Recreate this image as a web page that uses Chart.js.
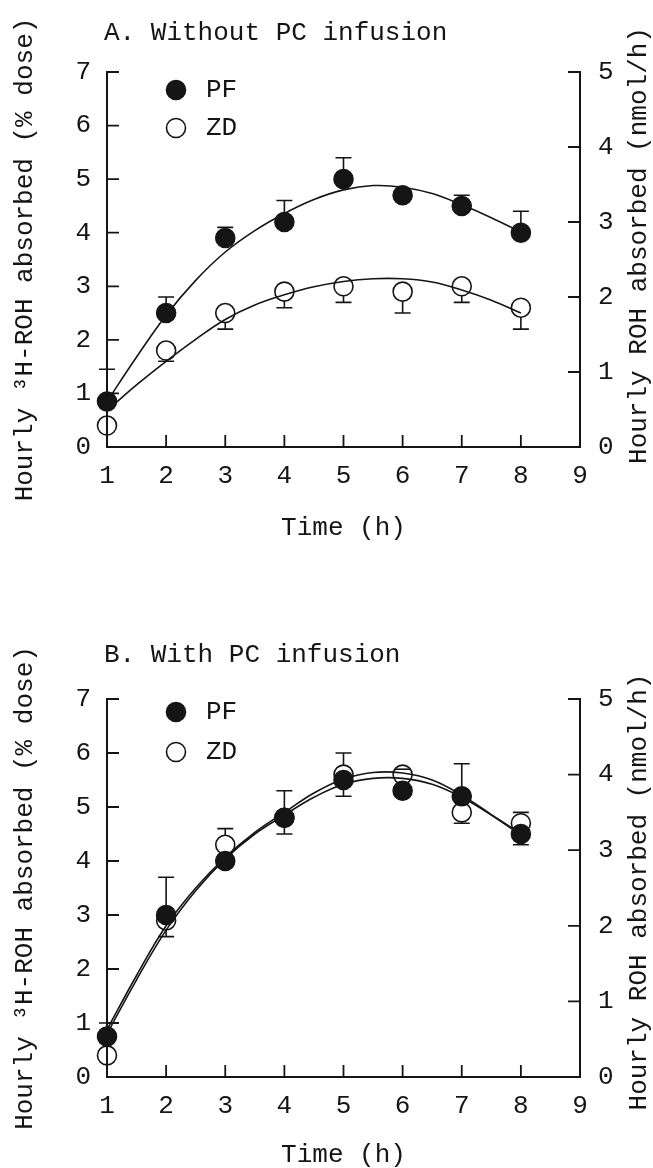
<!DOCTYPE html>
<html>
<head>
<meta charset="utf-8">
<script src="https://cdn.jsdelivr.net/npm/chart.js@4.4.0/dist/chart.umd.min.js"></script>
<style>
  html, body { margin: 0; padding: 0; background: #fff; }
  .panel { position: absolute; left: 0; width: 653px; height: 584px; }
</style>
</head>
<body>
<div class="panel" style="top:0"><canvas id="chartA" width="653" height="584"></canvas></div>
<div class="panel" style="top:584px"><canvas id="chartB" width="653" height="584"></canvas></div>
<script>
// measured hours and the fitted-curve sample hours
const timeH = [1, 2, 3, 4, 5, 6, 7, 8];
const fitTime = [1, 1.5, 2, 2.5, 3, 3.5, 4, 4.5, 5, 5.5, 6, 6.5, 7, 7.5, 8];

// A. Without PC infusion (% dose)
const pfA = [0.85, 2.5, 3.9, 4.2, 5.0, 4.7, 4.5, 4.0];
const pfErrA = [1.45, 2.8, 4.1, 4.6, 5.4, null, 4.7, 4.4];
const zdA = [0.4, 1.8, 2.5, 2.9, 3.0, 2.9, 3.0, 2.6];
const zdErrA = [null, 1.6, 2.2, 2.6, 2.7, 2.5, 2.7, 2.2];
const pfFitA = [0.85, 1.68, 2.46, 3.11, 3.64, 4.04, 4.36, 4.62, 4.80, 4.88, 4.85, 4.73, 4.52, 4.28, 4.01];
const zdFitA = [0.68, 1.16, 1.60, 2.01, 2.38, 2.65, 2.84, 2.99, 3.09, 3.14, 3.14, 3.08, 2.93, 2.74, 2.50];

// B. With PC infusion (% dose)
const pfB = [0.75, 3.0, 4.0, 4.8, 5.5, 5.3, 5.2, 4.5];
const pfErrB = [1.0, 3.7, null, 5.3, 5.2, null, 5.8, 4.3];
const zdB = [0.4, 2.9, 4.3, 4.8, 5.6, 5.6, 4.9, 4.7];
const zdErrB = [null, 2.6, 4.6, 4.5, 6.0, 5.7, 4.7, 4.9];
const pfFitB = [0.80, 1.80, 2.72, 3.45, 4.04, 4.50, 4.85, 5.18, 5.42, 5.53, 5.53, 5.42, 5.18, 4.85, 4.48];
const zdFitB = [0.88, 1.88, 2.80, 3.50, 4.07, 4.53, 4.90, 5.26, 5.52, 5.64, 5.63, 5.50, 5.22, 4.86, 4.50];

// axis ticks
const xTicks = [1, 2, 3, 4, 5, 6, 7, 8, 9];
const leftTicks = [0, 1, 2, 3, 4, 5, 6, 7];
const rightTicks = [0, 1, 2, 3, 4, 5];

const INK = "#151515";
const FONT = "'Liberation Mono', 'Courier New', monospace";
const W = 653, H = 584;

const toXY = (xs, ys) => xs.map((x, i) => ({ x, y: ys[i] }));

// error bars, inward tick marks, right axis title, panel title and legend
const panelPlugin = {
  id: "panel",
  beforeDatasetsDraw(chart) {
    const ctx = chart.ctx;
    const ys = chart.scales.y;
    chart.data.datasets.forEach((ds, i) => {
      if (!ds.errEnd) return;
      const meta = chart.getDatasetMeta(i);
      ctx.save();
      ctx.strokeStyle = INK;
      ctx.lineWidth = 1.6;
      meta.data.forEach((pt, j) => {
        const end = ds.errEnd[j];
        if (end == null) return;
        const yEnd = ys.getPixelForValue(end);
        const dir = yEnd < pt.y ? -1 : 1;
        const r = ds.pointRadius;
        ctx.beginPath();
        if (Math.abs(yEnd - pt.y) > r) {
          ctx.moveTo(pt.x, pt.y + dir * r);
          ctx.lineTo(pt.x, yEnd);
        }
        ctx.moveTo(pt.x - 8, yEnd);
        ctx.lineTo(pt.x + 8, yEnd);
        ctx.stroke();
      });
      ctx.restore();
    });
  },
  afterDraw(chart, args, opts) {
    const ctx = chart.ctx;
    const { left, right, top, bottom } = chart.chartArea;
    const { x, y, y2 } = chart.scales;
    ctx.save();
    ctx.strokeStyle = INK;
    ctx.lineWidth = 1.8;
    ctx.beginPath();
    y.ticks.forEach(t => {
      const p = y.getPixelForValue(t.value);
      ctx.moveTo(left, p); ctx.lineTo(left + 12, p);
    });
    y2.ticks.forEach(t => {
      const p = y2.getPixelForValue(t.value);
      ctx.moveTo(right - 12, p); ctx.lineTo(right, p);
    });
    x.ticks.forEach(t => {
      const p = x.getPixelForValue(t.value);
      ctx.moveTo(p, bottom); ctx.lineTo(p, bottom - 12);
    });
    ctx.stroke();

    ctx.fillStyle = INK;
    ctx.font = "26px " + FONT;
    ctx.textBaseline = "middle";

    // right axis title reads bottom-to-top like the left one
    ctx.save();
    ctx.translate(opts.rightTitleX, (top + bottom) / 2 + opts.rightTitleShift);
    ctx.rotate(-Math.PI / 2);
    ctx.textAlign = "center";
    ctx.fillText(opts.rightTitle, 0, 0);
    ctx.restore();

    ctx.textAlign = "left";
    ctx.fillText(opts.title, opts.titleX, opts.titleY);

    opts.legend.forEach((item, k) => {
      const ds = chart.data.datasets[item];
      const cy = opts.legendY[k];
      ctx.beginPath();
      ctx.arc(opts.legendX, cy, ds.pointRadius, 0, Math.PI * 2);
      ctx.fillStyle = ds.pointBackgroundColor;
      ctx.fill();
      ctx.lineWidth = ds.pointBorderWidth;
      ctx.strokeStyle = ds.pointBorderColor;
      ctx.stroke();
      ctx.fillStyle = INK;
      ctx.fillText(ds.label, opts.legendX + 30, cy);
    });
    ctx.restore();
  }
};

function makePanel(id, cfg) {
  const tickFont = { family: FONT, size: 26 };
  const titleFont = { family: FONT, size: 26, lineHeight: 1 };
  return new Chart(document.getElementById(id), {
    type: "scatter",
    data: {
      datasets: [
        {
          label: "PF",
          data: toXY(timeH, cfg.pf),
          errEnd: cfg.pfErr,
          pointRadius: 9.5,
          pointBackgroundColor: INK,
          pointBorderColor: INK,
          pointBorderWidth: 1.6,
          clip: false,
          order: 0
        },
        {
          label: "ZD",
          data: toXY(timeH, cfg.zd),
          errEnd: cfg.zdErr,
          pointRadius: 9.5,
          pointBackgroundColor: "rgba(255,255,255,0)",
          pointBorderColor: INK,
          pointBorderWidth: 1.6,
          clip: false,
          order: 1
        },
        {
          label: "PF fit",
          data: toXY(fitTime, cfg.pfFit),
          showLine: true,
          pointRadius: 0,
          borderColor: INK,
          borderWidth: 1.6,
          tension: 0.4,
          order: 2
        },
        {
          label: "ZD fit",
          data: toXY(fitTime, cfg.zdFit),
          showLine: true,
          pointRadius: 0,
          borderColor: INK,
          borderWidth: 1.6,
          tension: 0.4,
          order: 2
        }
      ]
    },
    options: {
      responsive: false,
      animation: false,
      events: [],
      layout: { padding: { top: cfg.plotTop, left: 0, right: 0, bottom: 0 } },
      scales: {
        x: {
          type: "linear",
          min: 1, max: 9,
          afterBuildTicks: s => { s.ticks = xTicks.map(v => ({ value: v })); },
          afterFit: s => { s.height = H - cfg.plotBottom; },
          grid: { display: false, drawTicks: false },
          border: { display: true, color: INK, width: 2 },
          ticks: { font: tickFont, color: INK, padding: 14, maxRotation: 0 },
          title: {
            display: true, text: "Time (h)", font: titleFont, color: INK,
            padding: { top: 0, bottom: cfg.xTitlePad }
          }
        },
        y: {
          position: "left",
          min: 0, max: 7,
          afterBuildTicks: s => { s.ticks = leftTicks.map(v => ({ value: v })); },
          afterFit: s => { s.width = 107; },
          grid: { display: false, drawTicks: false },
          border: { display: true, color: INK, width: 2 },
          ticks: { font: tickFont, color: INK, padding: 16 },
          title: {
            display: true, text: "Hourly \u00B3H-ROH absorbed (% dose)",
            font: titleFont, color: INK, padding: { top: 12, bottom: 0 }
          }
        },
        y2: {
          position: "right",
          min: 0, max: 5,
          afterBuildTicks: s => { s.ticks = rightTicks.map(v => ({ value: v })); },
          afterFit: s => { s.width = W - 580; },
          grid: { display: false, drawTicks: false },
          border: { display: true, color: INK, width: 2 },
          ticks: { font: tickFont, color: INK, padding: 18 },
          title: { display: false }
        }
      },
      plugins: {
        legend: { display: false },
        tooltip: { enabled: false },
        panel: {
          title: cfg.title,
          titleX: 104,
          titleY: cfg.titleY,
          rightTitle: "Hourly ROH absorbed (nmol/h)",
          rightTitleX: 639,
          rightTitleShift: cfg.rightTitleShift,
          legend: [0, 1],
          legendX: 176,
          legendY: cfg.legendY
        }
      }
    },
    plugins: [panelPlugin]
  });
}

makePanel("chartA", {
  title: "A. Without PC infusion",
  titleY: 33,
  plotTop: 72, plotBottom: 447, xTitlePad: 43,
  rightTitleShift: -14,
  legendY: [90, 128],
  pf: pfA, pfErr: pfErrA, zd: zdA, zdErr: zdErrA, pfFit: pfFitA, zdFit: zdFitA
});

makePanel("chartB", {
  title: "B. With PC infusion",
  titleY: 71,
  plotTop: 115, plotBottom: 493, xTitlePad: 0,
  rightTitleShift: 4,
  legendY: [128, 168],
  pf: pfB, pfErr: pfErrB, zd: zdB, zdErr: zdErrB, pfFit: pfFitB, zdFit: zdFitB
});
</script>
</body>
</html>
